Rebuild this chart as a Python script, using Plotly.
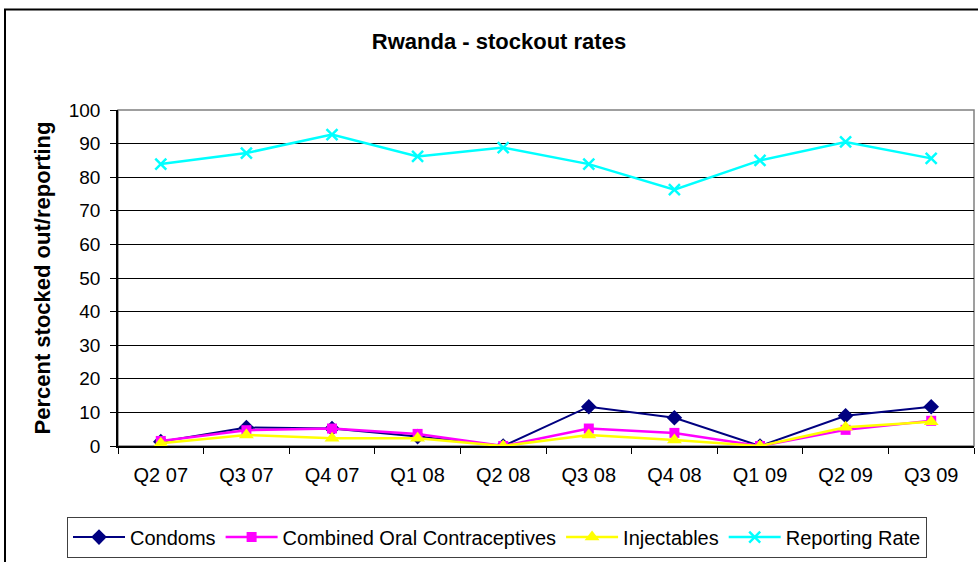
import plotly.graph_objects as go

quarters = ["Q2 07", "Q3 07", "Q4 07", "Q1 08", "Q2 08", "Q3 08", "Q4 08", "Q1 09", "Q2 09", "Q3 09"]
condoms = [1.3, 5.5, 5.2, 2.8, 0, 11.7, 8.4, 0, 9.0, 11.7]
coc = [1.5, 4.7, 5.2, 3.6, 0, 5.2, 3.9, 0, 4.8, 7.5]
injectables = [0.8, 3.3, 2.3, 2.3, 0, 3.3, 1.8, 0, 5.6, 7.2]
reporting = [83.9, 87.2, 92.7, 86.2, 88.8, 83.9, 76.3, 85.0, 90.5, 85.6]
y_ticks = [0, 10, 20, 30, 40, 50, 60, 70, 80, 90, 100]

FONT = "Liberation Sans, Arial, sans-serif"

fig = go.Figure()
fig.add_trace(go.Scatter(x=quarters, y=condoms, name="Condoms", mode="lines+markers",
                         line=dict(color="#000080", width=2),
                         marker=dict(symbol="diamond", size=12, color="#000080")))
fig.add_trace(go.Scatter(x=quarters, y=coc, name="Combined Oral Contraceptives", mode="lines+markers",
                         line=dict(color="#FF00FF", width=2.5),
                         marker=dict(symbol="square", size=10, color="#FF00FF")))
fig.add_trace(go.Scatter(x=quarters, y=injectables, name="Injectables", mode="lines+markers",
                         line=dict(color="#FFFF00", width=2.5),
                         marker=dict(symbol="triangle-up", size=13, color="#FFFF00")))
fig.add_trace(go.Scatter(x=quarters, y=reporting, name="Reporting Rate", mode="lines+markers",
                         line=dict(color="#00FFFF", width=2.5),
                         marker=dict(symbol="x-thin", size=11, line=dict(color="#00FFFF", width=2.5), color="#00FFFF")))

L, R, T, B = 118, 4, 110, 114
W, H = 978, 562
pw = W - L - R
ph = H - T - B

def px_x(p):
    return (p - L) / pw

def px_y(p):
    return (H - B - p) / ph

fig.update_layout(
    width=W, height=H,
    margin=dict(l=L, r=R, t=T, b=B),
    paper_bgcolor="white", plot_bgcolor="white",
    font=dict(family=FONT, size=19, color="black"),
    title=dict(text="<b>Rwanda - stockout rates</b>", x=px_x(499), xanchor="center",
               xref="paper", y=1 - 41 / H, yanchor="middle", yref="container",
               font=dict(size=22, family=FONT, color="black")),
    showlegend=True,
    legend=dict(orientation="h", x=px_x(497), xanchor="center", y=px_y(519), yanchor="top",
                bordercolor="#404040", borderwidth=1, bgcolor="white",
                font=dict(size=20, family=FONT), itemwidth=52, tracegroupgap=0,
                traceorder="normal"),
    xaxis=dict(type="category", showline=True, linecolor="black", linewidth=1.5,
               ticks="outside", tickson="boundaries", ticklen=6, tickcolor="black",
               showgrid=False, zeroline=False, ticklabelstandoff=10,
               tickfont=dict(size=20), range=[-0.5, 9.5]),
    yaxis=dict(range=[0, 100], tickvals=y_ticks, showline=True, linecolor="black", linewidth=1.5,
               ticks="outside", ticklen=6, tickcolor="black", showgrid=True, gridcolor="black",
               gridwidth=1, zeroline=False, tickfont=dict(size=19), ticklabelstandoff=6,
               title=dict(text="<b>Percent stocked out/reporting</b>", font=dict(size=22), standoff=12)),
    shapes=[
        dict(type="rect", xref="paper", yref="paper", x0=0, x1=1, y0=0, y1=1,
             line=dict(color="#808080", width=1.5), layer="below"),
        dict(type="rect", xref="paper", yref="paper", x0=px_x(5), x1=px_x(1200), y0=px_y(9), y1=px_y(900),
             line=dict(color="black", width=2), layer="above"),
    ],
)

fig.write_html("out.html", config={"displayModeBar": False},
               post_script="document.body.style.margin='0';document.body.style.overflow='hidden';")
